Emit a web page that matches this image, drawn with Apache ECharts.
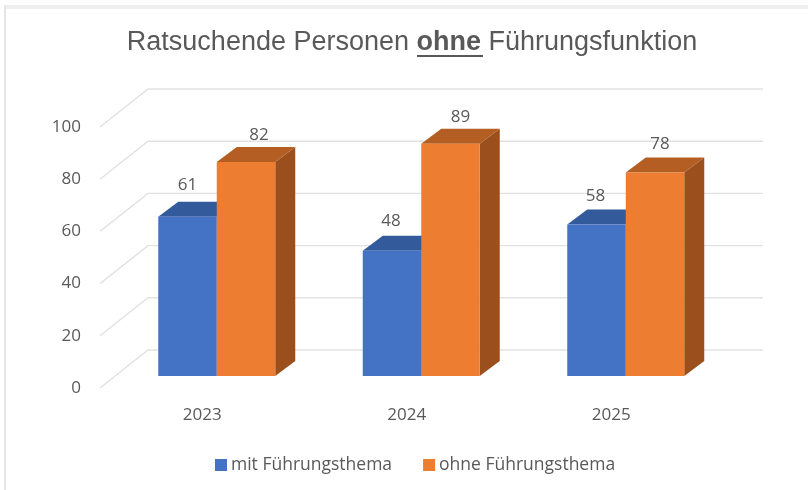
<!DOCTYPE html>
<html>
<head>
<meta charset="utf-8">
<style>
  html, body { margin: 0; padding: 0; background: #fff; }
  #chart { width: 808px; height: 490px; }
</style>
<script src="https://cdn.jsdelivr.net/npm/echarts@6/dist/echarts.min.js"></script>
</head>
<body>
<div id="chart"></div>
<script>
const years = ['2023', '2024', '2025']
const mitThema = [61, 48, 58]
const ohneThema = [82, 89, 78]
const yTicks = [0, 20, 40, 60, 80, 100]

const barWidth = 58.5
// bars stand a little behind the front edge of the floor
const inset = { x: 14.5, y: -12 }
const depth = { x: 20, y: -15 }
const wall = { x: 48, y: -38, width: 615 }
const textColor = '#595959'
const labelFont = 'Open Sans'

function drawGridLine(params, api) {
  const y = api.coord([0, api.value(0)])[1]
  const x0 = params.coordSys.x
  return {
    type: 'polyline',
    silent: true,
    shape: {
      points: [
        [x0, y],
        [x0 + wall.x, y + wall.y],
        [x0 + wall.x + wall.width, y + wall.y],
      ],
    },
    style: { stroke: '#e2e2e2', lineWidth: 1.4, fill: 'none' },
  }
}

// 3d box: side = 0 is the left bar of a pair, side = 1 the right one
function makeBar(side, colors, labelShift) {
  return function (params, api) {
    const idx = api.value(0)
    const value = api.value(1)
    const top = api.coord([idx, value])
    const bottom = api.coord([idx, 0])
    const x0 = top[0] + inset.x - barWidth + side * barWidth
    const x1 = x0 + barWidth
    const y0 = top[1] + inset.y
    const y1 = bottom[1] + inset.y
    return {
      type: 'group',
      children: [
        {
          type: 'polygon',
          shape: { points: [[x1, y0], [x1 + depth.x, y0 + depth.y], [x1 + depth.x, y1 + depth.y], [x1, y1]] },
          style: { fill: colors.side },
        },
        {
          type: 'polygon',
          shape: { points: [[x0, y0], [x0 + depth.x, y0 + depth.y], [x1 + depth.x, y0 + depth.y], [x1, y0]] },
          style: { fill: colors.top },
        },
        {
          type: 'rect',
          shape: { x: x0, y: y0, width: barWidth, height: y1 - y0 },
          style: { fill: colors.front },
        },
        {
          type: 'text',
          z2: 10,
          style: {
            x: (x0 + x1) / 2 + labelShift[idx][0],
            y: y0 + depth.y - 15 + labelShift[idx][1],
            text: String(value),
            fill: textColor,
            font: '17px "' + labelFont + '"',
            align: 'center',
            verticalAlign: 'middle',
          },
        },
      ],
    }
  }
}

const chart = echarts.init(document.getElementById('chart'), null, { renderer: 'canvas' })
chart.setOption({
  animation: false,
  backgroundColor: '#fff',
  title: {
    left: 407,
    top: 24,
    textAlign: 'center',
    text: '{a|Ratsuchende Personen }{b|ohne}{a| Führungsfunktion}',
    textStyle: {
      fontWeight: 'normal',
      rich: {
        a: { fontFamily: 'Liberation Sans', fontSize: 27, fontWeight: 'normal', color: textColor },
        b: { fontFamily: 'Liberation Sans', fontSize: 27, fontWeight: 'bold', color: textColor },
      },
    },
  },
  legend: {
    data: ['mit Führungsthema', 'ohne Führungsthema'],
    left: 210,
    top: 451,
    icon: 'rect',
    itemWidth: 12,
    itemHeight: 12,
    itemGap: 31,
    textStyle: { fontFamily: labelFont, fontSize: 17.5, color: textColor, padding: [0, 0, 0, -1] },
  },
  grid: { left: 100, top: 127, width: 613.5, height: 261 },
  xAxis: {
    type: 'category',
    data: years,
    axisLine: { show: false },
    axisTick: { show: false },
    axisLabel: { margin: 19, color: textColor, fontFamily: labelFont, fontSize: 17 },
  },
  yAxis: {
    type: 'value',
    min: 0,
    max: 100,
    interval: 20,
    axisLine: { show: false },
    axisTick: { show: false },
    splitLine: { show: false },
    axisLabel: { margin: 19, color: textColor, fontFamily: labelFont, fontSize: 17, padding: [2, 0, 0, 0] },
  },
  graphic: [
    // frame of the pasted slide
    { type: 'rect', shape: { x: 4, y: 5, width: 804, height: 4 }, style: { fill: '#eeeeee' }, silent: true },
    { type: 'rect', shape: { x: 4, y: 5, width: 2, height: 485 }, style: { fill: '#e6e6e6' }, silent: true },
    // underline below "ohne"
    { type: 'rect', shape: { x: 417, y: 55, width: 66, height: 2 }, style: { fill: textColor }, silent: true },
  ],
  series: [
    {
      type: 'custom',
      name: 'grid',
      renderItem: drawGridLine,
      data: yTicks.map((t) => [t]),
      encode: { y: 0 },
      z: 1,
      silent: true,
    },
    {
      type: 'custom',
      name: 'mit Führungsthema',
      itemStyle: { color: '#4472C4' },
      renderItem: makeBar(0, { front: '#4472C4', top: '#335A9A', side: '#2F5597' }, [[0, -2], [-1, 0], [-1, 2]]),
      data: years.map((y, i) => [i, mitThema[i]]),
      encode: { x: 0, y: 1 },
      z: 2,
    },
    {
      type: 'custom',
      name: 'ohne Führungsthema',
      itemStyle: { color: '#ED7D31' },
      renderItem: makeBar(1, { front: '#ED7D31', top: '#B55E23', side: '#9A4F1D' }, [[13, 3], [10, 3], [5, 2]]),
      data: years.map((y, i) => [i, ohneThema[i]]),
      encode: { x: 0, y: 1 },
      z: 3,
    },
  ],
})
</script>
</body>
</html>
